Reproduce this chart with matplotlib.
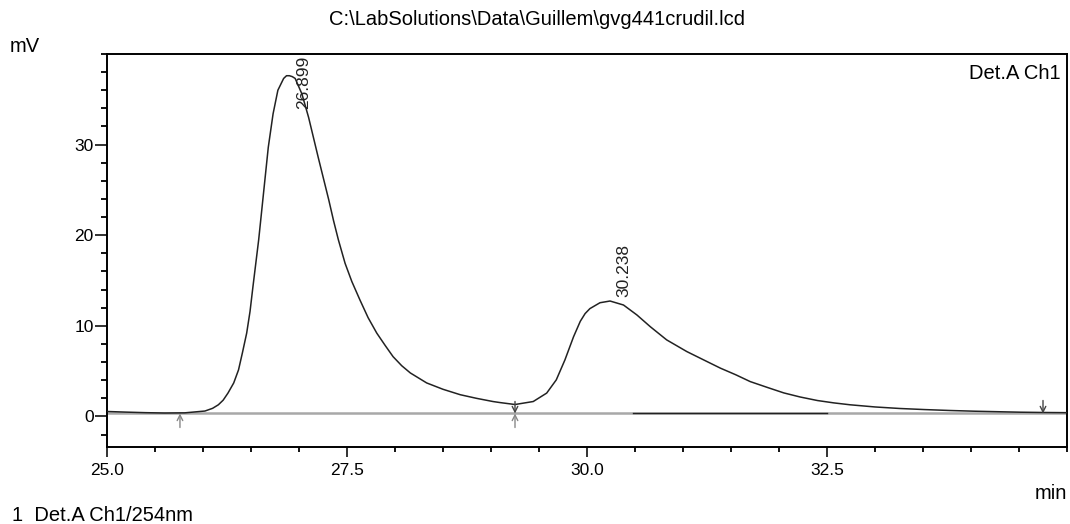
import numpy as np
import matplotlib.pyplot as plt
from matplotlib.ticker import MultipleLocator

# chromatogram (min, mV)
time_min = [25.00, 25.20, 25.40, 25.60, 25.81, 26.02, 26.10, 26.16, 26.21, 26.26,
            26.32, 26.37, 26.41, 26.455, 26.49, 26.52, 26.55, 26.58, 26.63, 26.68,
            26.73, 26.78, 26.84, 26.87, 26.90, 26.93, 26.96, 27.03, 27.10, 27.20,
            27.31, 27.36, 27.41, 27.48, 27.55, 27.635, 27.72, 27.81, 27.90, 27.98,
            28.07, 28.16, 28.33, 28.50, 28.68, 28.85, 29.02, 29.09, 29.25, 29.44,
            29.58, 29.68, 29.77, 29.86, 29.93, 29.98, 30.03, 30.135, 30.24, 30.38,
            30.52, 30.66, 30.83, 31.04, 31.25, 31.39, 31.55, 31.70, 31.88, 32.05,
            32.22, 32.40, 32.57, 32.74, 33.00, 33.26, 33.52, 33.78, 34.04, 34.30,
            34.52, 34.75, 35.00]
signal_mv = [0.55, 0.48, 0.42, 0.38, 0.40, 0.60, 0.90, 1.29, 1.80, 2.58,
             3.70, 5.14, 7.00, 9.20, 11.6, 14.3, 16.9, 19.5, 24.6, 29.7,
             33.4, 36.0, 37.3, 37.6, 37.6, 37.5, 37.3, 35.6, 33.0, 28.6,
             23.9, 21.6, 19.5, 16.9, 14.9, 12.85, 10.9, 9.2, 7.8, 6.6,
             5.6, 4.8, 3.7, 3.0, 2.4, 2.0, 1.65, 1.54, 1.32, 1.65,
             2.58, 4.04, 6.24, 8.8, 10.5, 11.35, 11.9, 12.55, 12.74, 12.3,
             11.2, 9.9, 8.45, 7.16, 6.06, 5.33, 4.6, 3.85, 3.2, 2.6,
             2.15, 1.76, 1.50, 1.29, 1.05, 0.88, 0.76, 0.66, 0.58, 0.52,
             0.47, 0.44, 0.42]

peak_times = [26.899, 30.238]
peak_heights = [37.6, 12.74]
peak_offsets = [(14, -33), (14, 4)]

baseline_mv = 0.33
marker_times = [25.76, 29.25, 34.75]

fig = plt.figure(figsize=(10.7, 5.24), dpi=100)
plt.rcParams["font.family"] = ["Liberation Sans", "DejaVu Sans"]
fs = 12.5
fs_txt = 14.5
ax = fig.add_axes([0.1, 0.1464, 0.8972, 0.7506])
for axis in ["top", "bottom", "left", "right"]:
    ax.spines[axis].set_linewidth(1.4)

# integration baseline
ax.axhline(baseline_mv, color="#a8a8a8", lw=1.8, zorder=1)
ax.plot([30.48, 32.5], [baseline_mv, baseline_mv], color="#222222", lw=1.0, zorder=2)

ax.plot(time_min, signal_mv, color="#222222", lw=1.1, zorder=3)

# integration marks
ax.annotate("", xy=(marker_times[0], baseline_mv), xytext=(0, -14), textcoords="offset pixels",
            arrowprops=dict(arrowstyle="->", color="#888888", lw=1.0, shrinkA=0, shrinkB=0))
ax.annotate("", xy=(marker_times[1], baseline_mv), xytext=(0, -14), textcoords="offset pixels",
            arrowprops=dict(arrowstyle="->", color="#888888", lw=1.0, shrinkA=0, shrinkB=0))
ax.annotate("", xy=(marker_times[1], baseline_mv), xytext=(0, 12), textcoords="offset pixels",
            arrowprops=dict(arrowstyle="->", color="#444444", lw=1.0, shrinkA=0, shrinkB=0))
ax.annotate("", xy=(marker_times[2], baseline_mv), xytext=(0, 13), textcoords="offset pixels",
            arrowprops=dict(arrowstyle="->", color="#444444", lw=1.0, shrinkA=0, shrinkB=0))

for t, h, off in zip(peak_times, peak_heights, peak_offsets):
    ax.annotate(f"{t:.3f}", xy=(t, h), xytext=off, textcoords="offset pixels",
                rotation=90, ha="center", va="bottom", fontsize=12.5, color="#222222")

ax.set_xlim(25, 35)
ax.set_ylim(-3.4, 40)
ax.set_xticks([25.0, 27.5, 30.0, 32.5])
ax.set_xticklabels(["25.0", "27.5", "30.0", "32.5"])
ax.xaxis.set_minor_locator(MultipleLocator(0.5))
ax.set_yticks([0, 10, 20, 30])
ax.yaxis.set_minor_locator(MultipleLocator(2))
ax.tick_params(axis="both", which="major", labelsize=fs, width=1.3, color="#222222")
ax.tick_params(axis="y", which="major", length=8.6, pad=1)
ax.tick_params(axis="y", which="minor", length=4.3, width=1.3)
ax.tick_params(axis="x", which="major", length=7.2, pad=4)
ax.tick_params(axis="x", which="minor", length=3.3, width=1.3)

ax.text(0.993, 0.975, "Det.A Ch1", transform=ax.transAxes, ha="right", va="top", fontsize=fs_txt)
fig.text(0.502, 0.962, "C:\\LabSolutions\\Data\\Guillem\\gvg441crudil.lcd", ha="center", va="center", fontsize=fs_txt)
fig.text(0.009, 0.912, "mV", ha="left", va="center", fontsize=fs_txt)
fig.text(0.997, 0.059, "min", ha="right", va="center", fontsize=fs_txt)
fig.text(0.011, 0.017, "1  Det.A Ch1/254nm", ha="left", va="center", fontsize=fs_txt)

fig.savefig("out.png", dpi=100)
